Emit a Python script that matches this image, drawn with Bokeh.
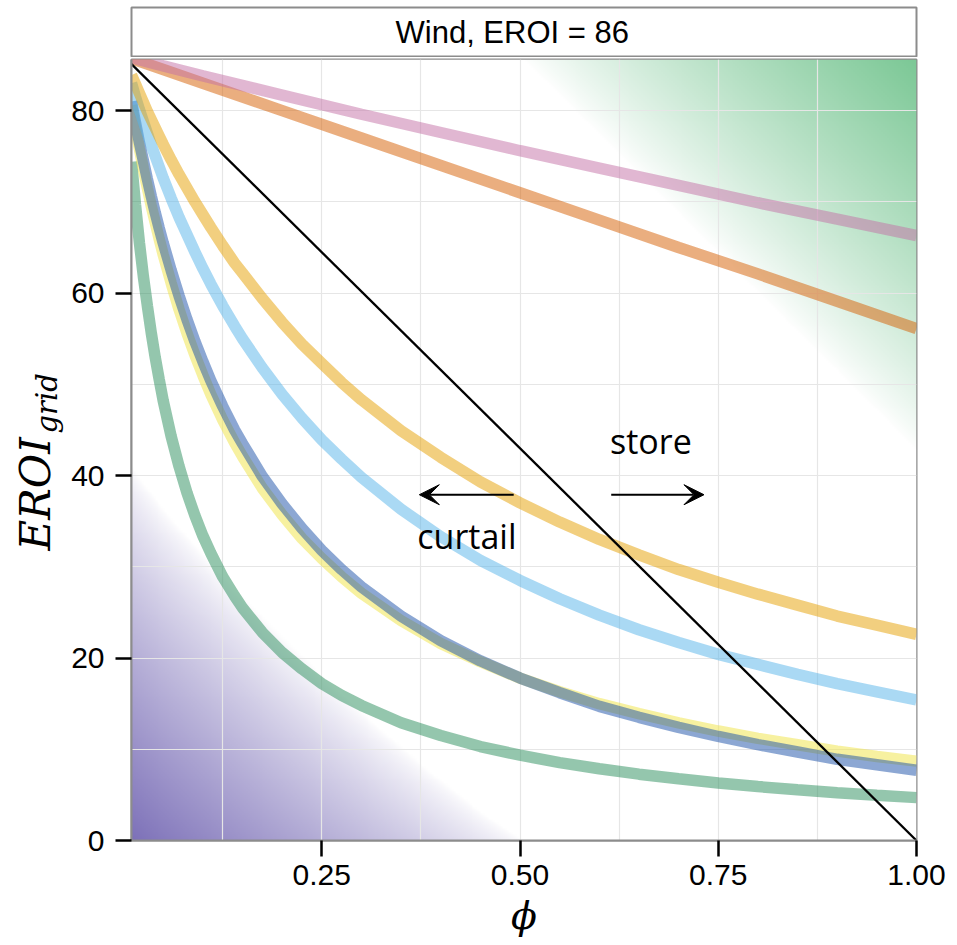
import numpy as np
from math import pi
from bokeh.plotting import figure
from bokeh.models import Range1d, FixedTicker, Label, Arrow, VeeHead
from bokeh.layouts import column, row
from bokeh.embed import file_html
from bokeh.resources import INLINE

# ---------------- data ----------------
panel_title = "Wind, EROI = 86"

phi = [0.01, 0.015, 0.02, 0.025, 0.03, 0.035, 0.04, 0.045, 0.05, 0.06, 0.07, 0.08,
       0.09, 0.1, 0.11, 0.125, 0.14, 0.15, 0.175, 0.2, 0.225, 0.25, 0.275, 0.3,
       0.35, 0.4, 0.45, 0.5, 0.55, 0.6, 0.65, 0.7, 0.75, 0.8, 0.85, 0.9, 0.95, 1.0]
phi_coarse = [0.01, 0.05, 0.1, 0.2, 0.3, 0.4, 0.5, 0.6, 0.7, 0.8, 0.9, 1.0]
phi_line = [0.01, 1.0]

eroi_pink = [85.8, 84.9, 83.8, 81.7, 79.6, 77.6, 75.6, 73.7, 71.8, 69.9, 68.1, 66.3]
eroi_vermillion = [85.7, 84.5, 83.0, 80.0, 77.0, 74.0, 71.0, 68.0, 65.0, 62.1, 59.1, 56.1]
eroi_orange = [83.9, 82.9, 81.9, 80.9, 79.9, 79.0, 78.1, 77.2, 76.3, 74.6, 73.0, 71.5,
               70.0, 68.6, 67.2, 65.2, 63.3, 62.2, 59.4, 56.8, 54.4, 52.3, 50.2, 48.3,
               44.9, 42.0, 39.3, 37.0, 34.9, 33.0, 31.3, 29.7, 28.3, 27.0, 25.8, 24.6, 23.6, 22.6]
eroi_skyblue = [83.0, 81.5, 80.1, 78.8, 77.5, 76.2, 75.0, 73.8, 72.6, 70.4, 68.3, 66.4,
                64.5, 62.7, 61.0, 58.6, 56.4, 55.0, 51.8, 48.9, 46.3, 43.9, 41.8, 39.8,
                36.3, 33.3, 30.7, 28.5, 26.5, 24.7, 23.1, 21.7, 20.4, 19.3, 18.2, 17.2, 16.3, 15.4]
eroi_blue = [81.0, 78.7, 76.5, 74.5, 72.5, 70.6, 68.8, 67.1, 65.5, 62.5, 59.7, 57.1,
             54.7, 52.5, 50.4, 47.6, 45.0, 43.5, 39.9, 36.9, 34.2, 31.8, 29.7, 27.8,
             24.6, 21.9, 19.7, 17.8, 16.2, 14.7, 13.5, 12.4, 11.4, 10.5, 9.7, 8.9, 8.3, 7.7]
eroi_yellow = [80.6, 78.1, 75.8, 73.6, 71.5, 69.5, 67.7, 65.9, 64.2, 61.1, 58.2, 55.6,
               53.2, 51.0, 48.9, 46.1, 43.6, 42.1, 38.6, 35.7, 33.1, 30.9, 28.9, 27.1,
               24.1, 21.6, 19.6, 17.8, 16.3, 15.0, 13.9, 12.9, 12.0, 11.2, 10.5, 9.8, 9.2, 8.7]
eroi_green = [74.4, 69.7, 65.5, 61.8, 58.6, 55.6, 52.9, 50.5, 48.2, 44.3, 41.0, 38.1,
              35.6, 33.4, 31.5, 28.9, 26.8, 25.5, 22.8, 20.6, 18.8, 17.2, 15.9, 14.8,
              12.9, 11.5, 10.3, 9.35, 8.54, 7.86, 7.27, 6.76, 6.31, 5.91, 5.56, 5.24, 4.96, 4.70]
eroi_curtail = [85.1, 0.0]

x_ticks = [0.25, 0.5, 0.75, 1.0]
x_tick_labels = ["0.25", "0.50", "0.75", "1.00"]
y_ticks = [0, 20, 40, 60, 80]
y_tick_labels = ["0", "20", "40", "60", "80"]

X0, X1 = 0.01, 1.0
Y0, Y1 = 0.0, 85.6

LEFT_W = 68          # width of the y-title column
MAIN_W = 957 - LEFT_W

# ---------------- main panel ----------------
p = figure(width=MAIN_W, height=888, x_range=Range1d(X0, X1), y_range=Range1d(Y0, Y1),
           toolbar_location=None, output_backend="svg",
           min_border_left=129 - LEFT_W, min_border_right=41, min_border_top=2,
           min_border_bottom=105)
p.background_fill_color = "white"
p.border_fill_color = "white"
p.outline_line_color = "#8c8c8c"
p.outline_line_width = 2

# background gradients (purple lower-left, green upper-right)
nx, ny = 400, 400
gx = (np.arange(nx) + 0.5) / nx
gy = (np.arange(ny) + 0.5) / ny
U, V = np.meshgrid(gx, gy)
t_p = (U / 0.50) ** 0.9 + (V / 0.48) ** 0.9
a_p = np.clip(1 - t_p, 0, 1) ** 0.75
a_g = np.clip(1 - ((1 - U) / 0.50 + (1 - V) / 0.50), 0, 1) ** 0.85
purple = np.array([124, 112, 184])
green = np.array([124, 200, 150])
img = np.empty((ny, nx), dtype=np.uint32)
view = img.view(dtype=np.uint8).reshape((ny, nx, 4))
rgb = 255 * (1 - a_p - a_g)[..., None] + a_p[..., None] * purple + a_g[..., None] * green
view[..., :3] = np.clip(rgb, 0, 255).astype(np.uint8)
view[..., 3] = 255
p.image_rgba(image=[img], x=X0, y=Y0, dw=X1 - X0, dh=Y1 - Y0, level="image")

# grid
p.xgrid.ticker = FixedTicker(ticks=[0.125 * k for k in range(1, 8)])
p.ygrid.ticker = FixedTicker(ticks=[10 * k for k in range(1, 9)])
p.grid.grid_line_color = "#e6e6e6"
p.grid.grid_line_width = 1.2

# axes
p.xaxis.ticker = FixedTicker(ticks=x_ticks)
p.xaxis.major_label_overrides = {t: l for t, l in zip(x_ticks, x_tick_labels)}
p.yaxis.ticker = FixedTicker(ticks=y_ticks)
p.yaxis.major_label_overrides = {t: l for t, l in zip(y_ticks, y_tick_labels)}
for ax in (p.xaxis, p.yaxis):
    ax.axis_line_color = "#8c8c8c"
    ax.axis_line_width = 2
    ax.major_tick_line_color = "black"
    ax.major_tick_line_width = 2.5
    ax.major_tick_out = 16
    ax.major_tick_in = 0
    ax.minor_tick_out = 0
    ax.minor_tick_in = 0
    ax.major_label_text_font = "Liberation Sans"
    ax.major_label_text_font_size = "30px"
    ax.major_label_text_color = "black"
p.yaxis.major_label_standoff = 11
p.xaxis.major_label_standoff = 8
p.xaxis.axis_label = "ϕ"
p.xaxis.axis_label_text_font = "DejaVu Serif"
p.xaxis.axis_label_text_font_style = "italic"
p.xaxis.axis_label_text_font_size = "38px"
p.xaxis.axis_label_text_color = "black"
p.xaxis.axis_label_standoff = 6

# curves
LW = 11.5
p.line(phi_coarse, eroi_vermillion, line_color="#D55E00", line_alpha=0.5, line_width=LW)
p.line(phi_coarse, eroi_pink, line_color="#C46FA5", line_alpha=0.5, line_width=LW)
p.line(phi, eroi_green, line_color="#2A8D5C", line_alpha=0.5, line_width=LW)
p.line(phi, eroi_yellow, line_color="#F0E442", line_alpha=0.5, line_width=LW)
p.line(phi, eroi_blue, line_color="#1A4FA8", line_alpha=0.5, line_width=LW)
p.line(phi, eroi_skyblue, line_color="#56B4E9", line_alpha=0.5, line_width=LW)
p.line(phi, eroi_orange, line_color="#E69F00", line_alpha=0.5, line_width=LW)
p.line(phi_line, eroi_curtail, line_color="black", line_width=2.3)

# arrows and annotation texts
p.add_layout(Arrow(end=VeeHead(size=20, fill_color="black", line_color="black"),
                   x_start=0.492, y_start=37.9, x_end=0.373, y_end=37.9,
                   line_color="black", line_width=2))
p.add_layout(Arrow(end=VeeHead(size=20, fill_color="black", line_color="black"),
                   x_start=0.615, y_start=37.9, x_end=0.732, y_end=37.9,
                   line_color="black", line_width=2))
p.add_layout(Label(x=0.665, y=43.8, text="store", text_font="Open Sans",
                   text_font_size="34px", text_align="center", text_baseline="alphabetic",
                   text_color="black"))
p.add_layout(Label(x=0.433, y=33.4, text="curtail", text_font="Open Sans",
                   text_font_size="34px", text_align="center", text_baseline="alphabetic",
                   text_color="black"))

# ---------------- strip (facet header) ----------------
s = figure(width=MAIN_W, height=57, x_range=Range1d(0, 1), y_range=Range1d(0, 1),
           toolbar_location=None, output_backend="svg",
           x_axis_location=None, y_axis_location=None,
           min_border_left=129 - LEFT_W, min_border_right=41, min_border_top=7,
           min_border_bottom=0)
s.grid.visible = False
s.background_fill_color = "white"
s.border_fill_color = "white"
s.outline_line_color = "#8c8c8c"
s.outline_line_width = 2
s.add_layout(Label(x=0.485, y=0.5, text=panel_title, text_font="Liberation Sans",
                   text_font_size="31px", text_align="center", text_baseline="middle",
                   text_color="black"))

# ---------------- y-axis title column (full page height, pixel coordinates) ----------------
yl = figure(width=LEFT_W, height=945, x_range=Range1d(0, LEFT_W), y_range=Range1d(0, 945),
            toolbar_location=None, output_backend="svg",
            x_axis_location=None, y_axis_location=None,
            min_border_left=0, min_border_right=0, min_border_top=0, min_border_bottom=0)
yl.grid.visible = False
yl.outline_line_color = None
yl.background_fill_color = "white"
yl.border_fill_color = "white"
yl.add_layout(Label(x=35, y=945 - 550, text="EROI", angle=pi / 2,
                    text_font="DejaVu Serif", text_font_style="italic",
                    text_font_size="42px", text_align="left", text_baseline="middle",
                    text_color="black"))
yl.add_layout(Label(x=46, y=945 - 433, text="grid", angle=pi / 2,
                    text_font="DejaVu Serif", text_font_style="italic",
                    text_font_size="29px", text_align="left", text_baseline="middle",
                    text_color="black"))

layout = row(yl, column(s, p, spacing=0), spacing=0)
open("out.html", "w").write(file_html(layout, INLINE))
